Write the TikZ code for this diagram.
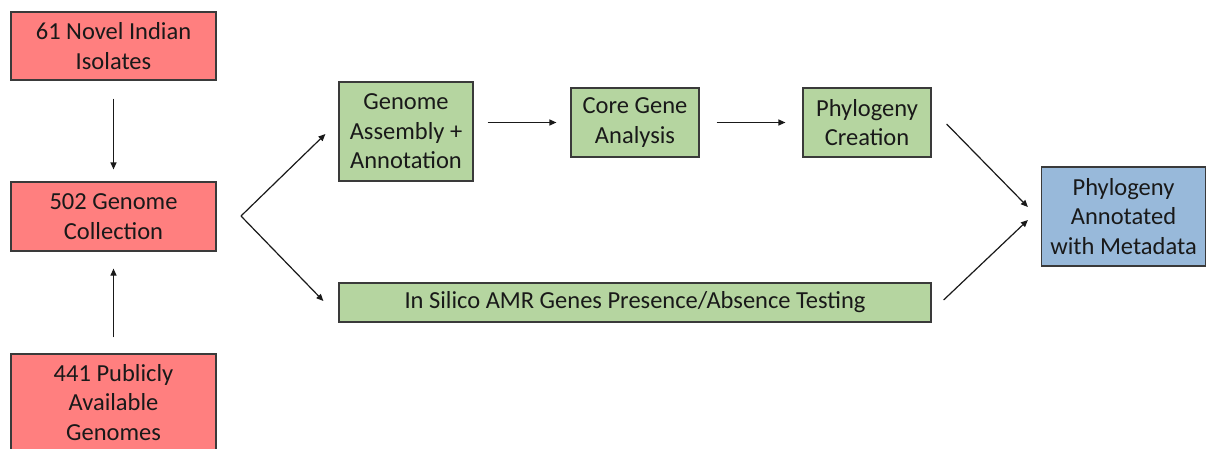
\documentclass[tikz,border=0pt]{standalone}
\usepackage{fontspec}
\setmainfont{Carlito}
\usetikzlibrary{arrows.meta}
\definecolor{boxred}{HTML}{FF7F7F}
\definecolor{boxgreen}{HTML}{B5D5A0}
\definecolor{boxblue}{HTML}{98B9DA}
\definecolor{edge}{HTML}{3A3A3A}
\begin{document}
\begin{tikzpicture}[x=1pt,y=-1pt,
  box/.style={draw=edge,line width=1.2pt,align=center,inner sep=0pt,
    font=\fontsize{24.5}{29.5}\selectfont,text=black!90},
  src/.style={box,fill=boxred,minimum width=205pt},
  proc/.style={box,fill=boxgreen},
  res/.style={box,fill=boxblue},
  arr/.style={-{Triangle[length=7pt,width=6pt]},line width=1.2pt,draw=black!90}
]
\useasboundingbox (0,0) rectangle (1206,448);

% input collections
\node[src,minimum height=68pt] (novel) at (113.5,46) {61 Novel Indian\\Isolates};
\node[src,minimum height=69pt] (coll) at (113.5,216.5) {502 Genome\\Collection};
\node[src,minimum height=97pt] (pub) at (113.5,402.5) {441 Publicly\\Available\\Genomes};

% processing steps
\node[proc,minimum width=134pt,minimum height=99pt] (asm) at (406,131.5) {Genome\\Assembly +\\Annotation};
\node[proc,minimum width=128pt,minimum height=69pt] (core) at (635,122.5) {Core Gene\\Analysis};
\node[proc,minimum width=128pt,minimum height=69pt] (phy) at (867,122.5) {Phylogeny\\Creation};
\node[proc,minimum width=592pt,minimum height=39pt] (amr) at (635,302.5) {In Silico AMR Genes Presence/Absence Testing};

% result
\node[res,minimum width=164pt,minimum height=99pt] (out) at (1123.5,216.5) {Phylogeny\\Annotated\\with Metadata};

% connectors
\draw[arr,shorten <=18pt,shorten >=12pt] (novel) -- (coll);
\draw[arr,shorten <=16pt,shorten >=17pt] (pub) -- (coll);
\coordinate (split) at (241,216);
\draw[arr] (split) -- ([xshift=-13pt,yshift=-2.5pt]asm.west);
\draw[arr] (split) -- ([xshift=-15pt,yshift=1.5pt]amr.west);
\draw[arr,shorten <=14pt,shorten >=14pt] (asm.east |- core.west) -- (core.west);
\draw[arr,shorten <=17pt,shorten >=17pt] (core) -- (phy);
\draw[arr] ([xshift=15pt,yshift=-1.5pt]phy.east) -- ([xshift=-13pt,yshift=9.5pt]out.west);
\draw[arr] ([xshift=12pt,yshift=2.5pt]amr.east) -- ([xshift=-13pt,yshift=-3.5pt]out.west);
\end{tikzpicture}
\end{document}
